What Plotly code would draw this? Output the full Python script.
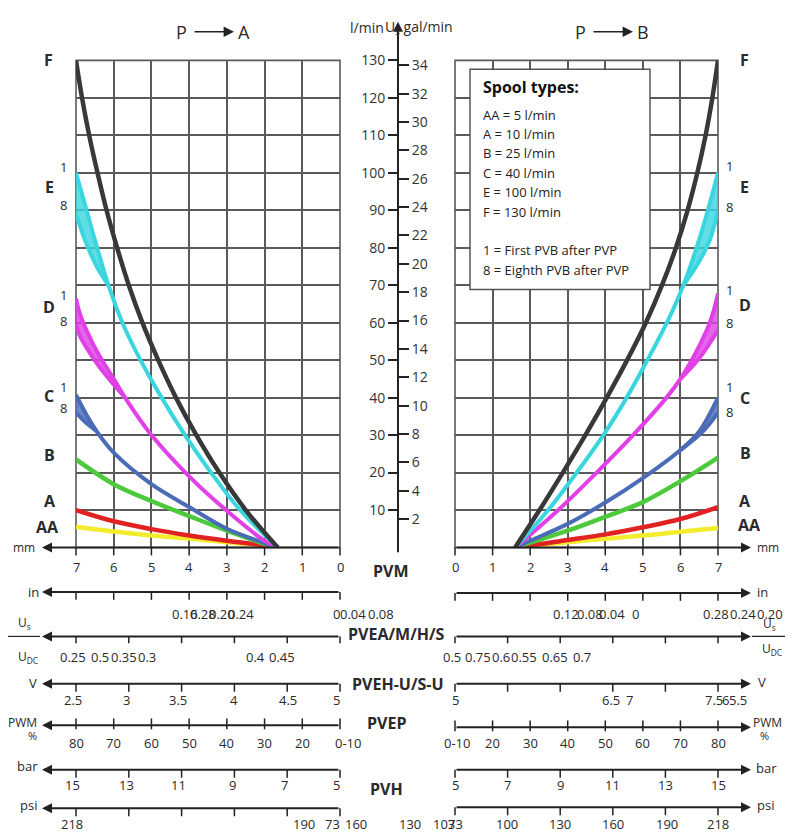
import plotly.graph_objects as go

W, H = 795, 837
FONT = "Open Sans"

# ----------------------------- data -----------------------------
# P -> A side: x = spool travel (mm), y = oil flow (l/min)
PA_F_mm = [1.65, 2.5, 3.2, 3.81, 4.35, 4.82, 5.24, 5.6, 5.91, 6.19, 6.43, 6.65, 6.84, 7.0]
PA_F_flow = [0, 10, 20, 30, 40, 50, 60, 70, 80, 90, 100, 110, 120, 130]
PA_E1_mm = [1.65, 2.65, 3.42, 4.11, 4.73, 5.29, 5.77, 6.14, 6.44, 6.72, 7.0]
PA_E1_flow = [0, 10, 20, 30, 40, 50, 60, 70, 80, 90, 100]
PA_E8_mm = [6.14, 6.45, 6.76, 7.0]
PA_E8_flow = [70, 75, 82, 89]
PA_D1_mm = [1.65, 2.0, 3.0, 4.0, 5.0, 5.7, 6.0, 6.4, 6.7, 6.9, 7.0]
PA_D1_flow = [0, 1.8, 9.8, 19, 30, 40, 45, 51.5, 57.5, 62.5, 66.5]
PA_D8_mm = [5.7, 6.0, 6.4, 6.7, 6.9, 7.0]
PA_D8_flow = [40, 43.5, 48.5, 53, 56.5, 59.6]
PA_C1_mm = [1.65, 2.0, 3.0, 4.0, 5.0, 6.0, 6.45, 6.7, 7.0]
PA_C1_flow = [0, 1.2, 5.0, 10.8, 16.9, 25.3, 31, 35, 40.7]
PA_C8_mm = [6.45, 6.7, 7.0]
PA_C8_flow = [31, 33, 36]
PA_mm = [1.65, 2.0, 3.0, 4.0, 5.0, 6.0, 7.0]
PA_B_flow = [0, 1.0, 4.5, 8.4, 12.4, 16.9, 23.5]
PA_A_flow = [0, 0.6, 1.8, 3.2, 4.9, 7.0, 10.0]
PA_AA_flow = [0, 0.5, 1.4, 2.4, 3.2, 4.3, 5.5]

# P -> B side
PB_F_mm = [1.6, 2.25, 2.87, 3.47, 4.04, 4.58, 5.08, 5.51, 5.88, 6.19, 6.45, 6.67, 6.85, 7.0]
PB_F_flow = [0, 10, 20, 30, 40, 50, 60, 70, 80, 90, 100, 110, 120, 130]
PB_E1_mm = [1.6, 2.48, 3.24, 3.95, 4.57, 5.12, 5.64, 6.08, 6.43, 6.73, 7.0]
PB_E1_flow = [0, 10, 20, 30, 40, 50, 60, 70, 80, 90, 100]
PB_E8_mm = [6.08, 6.45, 6.78, 7.0]
PB_E8_flow = [70, 75.5, 82, 90]
PB_D1_mm = [1.6, 2.75, 3.77, 4.74, 5.63, 6.0, 6.33, 6.7, 6.85, 7.0]
PB_D1_flow = [0, 10, 20, 30, 40, 45, 50.5, 58, 62, 67.8]
PB_D8_mm = [6.0, 6.5, 7.0]
PB_D8_flow = [45, 50.5, 58]
PB_C1_mm = [1.6, 2.0, 3.0, 4.0, 5.0, 6.0, 6.5, 7.0]
PB_C1_flow = [0, 1.8, 6.3, 12, 18.5, 26, 31, 40]
PB_C8_mm = [6.0, 6.6, 7.0]
PB_C8_flow = [26, 31, 36]
PB_mm = [1.6, 2.0, 3.0, 4.0, 5.0, 6.0, 7.0]
PB_B_flow = [0, 1.3, 4.5, 8.2, 12.1, 17.7, 24]
PB_A_flow = [0, 0.5, 2.0, 3.5, 5.4, 7.6, 10.8]
PB_AA_flow = [0, 0.4, 1.4, 2.3, 3.2, 4.2, 5.2]

LPM_TICKS = list(range(10, 131, 10))
GAL_TICKS = list(range(2, 35, 2))
LPM_PER_GAL = 3.785

LEGEND_TITLE = "Spool types:"
LEGEND_LINES = ["AA = 5 l/min", "A = 10 l/min", "B = 25 l/min", "C = 40 l/min",
                "E = 100 l/min", "F = 130 l/min", "", "1 = First PVB after PVP",
                "8 = Eighth PVB after PVP"]

# bottom scales: tick labels (text) as printed
MM_LABELS = ["0", "1", "2", "3", "4", "5", "6", "7"]
L_IN_LABELS = ["0.16", "0.28", "0.20", "0.24", "0", "0.04", "0.08"]
R_IN_LABELS = ["0.12", "0.08", "0.04", "0", "0.28", "0.24", "0.20"]
L_US_LABELS = ["0.25", "0.5", "0.35", "0.3", "0.4", "0.45"]
R_US_LABELS = ["0.5", "0.75", "0.6", "0.55", "0.65", "0.7"]
L_V_LABELS = ["2.5", "3", "3.5", "4", "4.5", "5"]
R_V_LABELS = ["5", "6.5", "7", "7.5", "6", "5.5"]
L_PWM_LABELS = ["80", "70", "60", "50", "40", "30", "20", "0-10"]
R_PWM_LABELS = ["0-10", "20", "30", "40", "50", "60", "70", "80"]
L_BAR_LABELS = ["15", "13", "11", "9", "7", "5"]
R_BAR_LABELS = ["5", "7", "9", "11", "13", "15"]
L_PSI_LABELS = ["218", "190", "73", "160"]
R_PSI_LABELS = ["130", "103", "73", "100", "130", "160", "190", "218"]

# ----------------------------- layout geometry -----------------------------
LX0, LX1 = 76, 340      # left chart: x=7 mm ... x=0 mm
RX0, RX1 = 455, 718     # right chart: x=0 mm ... x=7 mm
YT, YB = 51, 544        # 130 l/min ... 0 l/min
CX = 398                # centre flow axis

def lx(mm):
    return LX1 - mm * (LX1 - LX0) / 7.0

def rx(mm):
    return RX0 + mm * (RX1 - RX0) / 7.0

def PX(x):
    return x / W

def PY(y):
    return 1 - y / H

COL = dict(F="#383838", E="#3ad6df", D="#e040e6", C="#4a6bb5", B="#4dc93c", A="#e02222", AA="#f3ec2c")
GRID = "#5a5a5a"
INK = "#222222"

fig = go.Figure()

def curve(x, y, color, xa, ya, w=4.5):
    fig.add_trace(go.Scatter(x=x, y=y, mode="lines",
                             line=dict(color=color, width=w, shape="spline", smoothing=1.0),
                             xaxis=xa, yaxis=ya, hoverinfo="skip", showlegend=False))

def band(x1, y1, x8, y8, color, xa, ya):
    start = min(x8)
    sx = [a for a in x1 if a >= start]
    sy = [b for a, b in zip(x1, y1) if a >= start]
    fig.add_trace(go.Scatter(x=sx + list(reversed(x8)), y=sy + list(reversed(y8)), mode="lines",
                             fill="toself", fillcolor=color, opacity=0.8,
                             line=dict(color=color, width=1, shape="spline", smoothing=1.0),
                             xaxis=xa, yaxis=ya, hoverinfo="skip", showlegend=False))

for xa, ya, S in (("x", "y", dict(mm=PA_mm, AA=PA_AA_flow, A=PA_A_flow, B=PA_B_flow,
                                    C=(PA_C1_mm, PA_C1_flow, PA_C8_mm, PA_C8_flow),
                                    D=(PA_D1_mm, PA_D1_flow, PA_D8_mm, PA_D8_flow),
                                    E=(PA_E1_mm, PA_E1_flow, PA_E8_mm, PA_E8_flow),
                                    F=(PA_F_mm, PA_F_flow))),
                  ("x2", "y2", dict(mm=PB_mm, AA=PB_AA_flow, A=PB_A_flow, B=PB_B_flow,
                                    C=(PB_C1_mm, PB_C1_flow, PB_C8_mm, PB_C8_flow),
                                    D=(PB_D1_mm, PB_D1_flow, PB_D8_mm, PB_D8_flow),
                                    E=(PB_E1_mm, PB_E1_flow, PB_E8_mm, PB_E8_flow),
                                    F=(PB_F_mm, PB_F_flow)))):
    curve(S["mm"], S["AA"], COL["AA"], xa, ya)
    curve(S["mm"], S["A"], COL["A"], xa, ya)
    curve(S["mm"], S["B"], COL["B"], xa, ya)
    for k in ("C", "D", "E"):
        x1, y1, x8, y8 = S[k]
        band(x1, y1, x8, y8, COL[k], xa, ya)
        curve(x1, y1, COL[k], xa, ya, 4)
        curve(x8, y8, COL[k], xa, ya, 4)
    curve(S["F"][0], S["F"][1], COL["F"], xa, ya, 4.5)

# invisible trace so that the gal/min axis exists
fig.add_trace(go.Scatter(x=[0], y=[0], mode="markers", marker=dict(opacity=0),
                         xaxis="x2", yaxis="y3", hoverinfo="skip", showlegend=False))

shapes = []
ann = []

def LINE(x0, y0, x1, y1, w=1.6, color=INK):
    shapes.append(dict(type="line", xref="paper", yref="paper", x0=PX(x0), y0=PY(y0),
                       x1=PX(x1), y1=PY(y1), line=dict(color=color, width=w)))

def T(x, y, s, size=13, bold=False, xa="center", color="#2a2a2a"):
    ann.append(dict(x=PX(x), y=PY(y), xref="paper", yref="paper",
                    text=("<b>%s</b>" % s) if bold else s, showarrow=False,
                    xanchor=xa, yanchor="middle", font=dict(size=size, color=color, family=FONT)))

def ARROW(x0, y0, x1, y1, w=2, size=1.0):
    ann.append(dict(x=PX(x1), y=PY(y1), xref="paper", yref="paper", ax=x0 - x1, ay=y0 - y1,
                    axref="pixel", ayref="pixel", text="", showarrow=True, arrowhead=2,
                    arrowsize=size, arrowwidth=w, arrowcolor=INK, standoff=0, startstandoff=0))

# chart borders
for xr, yr in (("x domain", "y domain"), ("x2 domain", "y2 domain")):
    shapes.append(dict(type="rect", xref=xr, yref=yr, x0=0, x1=1, y0=0, y1=1,
                       line=dict(color=GRID, width=1.6), layer="below"))

# legend box
shapes.append(dict(type="rect", xref="paper", yref="paper", x0=PX(470), x1=PX(650),
                   y0=PY(283), y1=PY(60), fillcolor="white", line=dict(color="#555", width=1.5),
                   layer="above"))
T(481, 78, LEGEND_TITLE, size=16, bold=True, xa="left", color="#111")
for i, s in enumerate(LEGEND_LINES):
    if s:
        T(481, 106 + i * 19.6, s, size=13, xa="left", color="#222")

# centre flow axis arrow + titles
ARROW(CX, YB, CX, 12, w=2)
T(367, 18, "l/min", size=14)
T(383, 18, "U<sub>s</sub> gal/min", size=14, xa="left")

# headers P -> A, P -> B
T(181, 22, "P", size=18)
ARROW(193, 22, 234, 22, w=1.6, size=1.3)
T(244, 22, "A", size=18)
T(580, 22, "P", size=18)
ARROW(592, 22, 633, 22, w=1.6, size=1.3)
T(643, 22, "B", size=18)

# curve letters
for x, y, s, b in ((48, 51, "F", True), (63, 159, "1", False), (49, 179, "E", True),
                   (63, 197, "8", False), (63, 288, "1", False), (49, 301, "D", True),
                   (63, 315, "8", False), (63, 382, "1", False), (49, 391, "C", True),
                   (63, 403, "8", False), (49, 450, "B", True), (50, 497, "A", True),
                   (47, 523, "AA", True)):
    T(x, y, s, size=16 if b else 13, bold=b)
for x, y, s, b in ((744, 51, "F", True), (729, 158, "1", False), (744, 179, "E", True),
                   (729, 199, "8", False), (729, 283, "1", False), (745, 299, "D", True),
                   (729, 317, "8", False), (729, 382, "1", False), (745, 393, "C", True),
                   (729, 407, "8", False), (745, 448, "B", True), (745, 497, "A", True),
                   (749, 521, "AA", True)):
    T(x, y, s, size=16 if b else 13, bold=b)

# ---------------- bottom scales ----------------
T8 = [0, 1, 2, 3, 4, 5, 6, 7]
T6 = [0, 1.4, 2.8, 4.2, 5.6, 7.0]

def scale(side, y_line, ticks, labels, label_pos, y_lab, up=0, down=8):
    f = lx if side == "L" else rx
    if side == "L":
        ARROW(LX1, y_line, 42, y_line, w=2)
    else:
        ARROW(RX0, y_line, 751, y_line, w=2)
    for t in ticks:
        LINE(f(t), y_line - up, f(t), y_line + down, w=1.5)
    for s, p in zip(labels, label_pos):
        T(f(p), y_lab, s, size=13)

# left side
scale("L", 544, T8, MM_LABELS[::-1], [7, 6, 5, 4, 3, 2, 1, 0], 564)
scale("L", 589, T8, L_IN_LABELS, [4.11, 3.63, 3.13, 2.63, 0.09, -0.35, -1.1], 611)
scale("L", 634, T6, L_US_LABELS, [7.08, 6.37, 5.73, 5.12, 2.25, 1.54], 655, down=7)
scale("L", 682, T6, L_V_LABELS, [7.08, 5.65, 4.3, 2.81, 1.38, 0.08], 698)
scale("L", 724, T8, L_PWM_LABELS, [7, 6, 5, 4, 3, 2, 1, -0.2], 742, up=7, down=4)
scale("L", 769, T6, L_BAR_LABELS, [7.1, 5.65, 4.27, 2.84, 1.46, 0.08], 784)
scale("L", 808, T6, L_PSI_LABELS, [7.1, 0.95, 0.19, -0.42], 824)

# right side
scale("R", 544, T8, MM_LABELS, [0, 1, 2, 3, 4, 5, 6, 7], 564)
scale("R", 590, T8, R_IN_LABELS, [2.95, 3.59, 4.17, 4.81, 6.94, 7.66, 8.38], 611)
scale("R", 634, T6, R_US_LABELS, [-0.08, 0.61, 1.22, 1.84, 2.66, 3.38], 655, down=7)
scale("R", 682, T6, R_V_LABELS, [0, 4.15, 4.65, 6.89, 7.2, 7.53], 698)
scale("R", 726, T8, R_PWM_LABELS, [0.05, 1, 2, 3, 4, 5, 6, 7], 742, up=7, down=4)
scale("R", 769, T6, R_BAR_LABELS, [0, 1.4, 2.8, 4.2, 5.6, 7.0], 784)
scale("R", 807, T6, R_PSI_LABELS, [-1.2, -0.29, 0, 1.38, 2.8, 4.2, 5.64, 7.0], 824)

# unit labels
T(24, 544, "mm", size=12); T(768, 544, "mm", size=12)
T(33, 589, "in", size=13); T(762, 589, "in", size=13)
T(24, 620, "U<sub>s</sub>", size=12); LINE(8, 634, 40, 634, w=1.2); T(28, 655, "U<sub>DC</sub>", size=12)
T(769, 621, "U<sub>s</sub>", size=12); LINE(752, 634, 785, 634, w=1.2); T(772, 647, "U<sub>DC</sub>", size=12)
T(33, 681, "V", size=13); T(762, 680, "V", size=13)
T(22, 721, "PWM", size=12); T(32, 734, "%", size=11)
T(767, 721, "PWM", size=12); T(764, 734, "%", size=11)
T(27, 765, "bar", size=13); T(766, 767, "bar", size=13)
T(28, 805, "psi", size=13); T(765, 805, "psi", size=13)

# valve group labels
T(391, 568, "PVM", size=16, bold=True)
T(396, 632, "PVEA/M/H/S", size=16, bold=True)
T(398, 682, "PVEH-U/S-U", size=16, bold=True)
T(386, 722, "PVEP", size=16, bold=True)
T(386, 788, "PVH", size=16, bold=True)

ydom = [PY(YB), PY(YT)]
fig.update_layout(
    width=W, height=H, margin=dict(l=0, r=0, t=0, b=0),
    paper_bgcolor="white", plot_bgcolor="white", showlegend=False,
    font=dict(family=FONT, color="#2a2a2a"),
    xaxis=dict(domain=[PX(LX0), PX(LX1)], range=[7, 0], tick0=0, dtick=1, showgrid=True,
               gridcolor=GRID, gridwidth=1.6, showticklabels=False, ticks="", zeroline=False,
               showline=False, anchor="y", fixedrange=True),
    yaxis=dict(domain=ydom, range=[0, 130], tickvals=LPM_TICKS, showgrid=True, gridcolor=GRID,
               gridwidth=1.6, anchor="free", position=PX(CX), side="left", ticks="outside",
               ticklen=10, tickwidth=1.5, tickcolor=INK, tickfont=dict(size=14, color="#333"),
               zeroline=False, showline=False, fixedrange=True),
    xaxis2=dict(domain=[PX(RX0), PX(RX1)], range=[0, 7], tick0=0, dtick=1, showgrid=True,
                gridcolor=GRID, gridwidth=1.6, showticklabels=False, ticks="", zeroline=False,
                showline=False, anchor="y2", fixedrange=True),
    yaxis2=dict(domain=ydom, range=[0, 130], tickvals=LPM_TICKS, showgrid=True, gridcolor=GRID,
                gridwidth=1.6, showticklabels=False, ticks="", zeroline=False, showline=False,
                anchor="x2", fixedrange=True),
    yaxis3=dict(overlaying="y2", range=[0, 130 / LPM_PER_GAL], tickvals=GAL_TICKS,
                anchor="free", position=PX(CX), side="right", ticks="outside", ticklen=10,
                tickwidth=1.5, tickcolor=INK, tickfont=dict(size=14, color="#333"),
                showgrid=False, zeroline=False, showline=False, fixedrange=True),
    shapes=shapes, annotations=ann,
)

fig.write_html("out.html", config={"displayModeBar": False})
